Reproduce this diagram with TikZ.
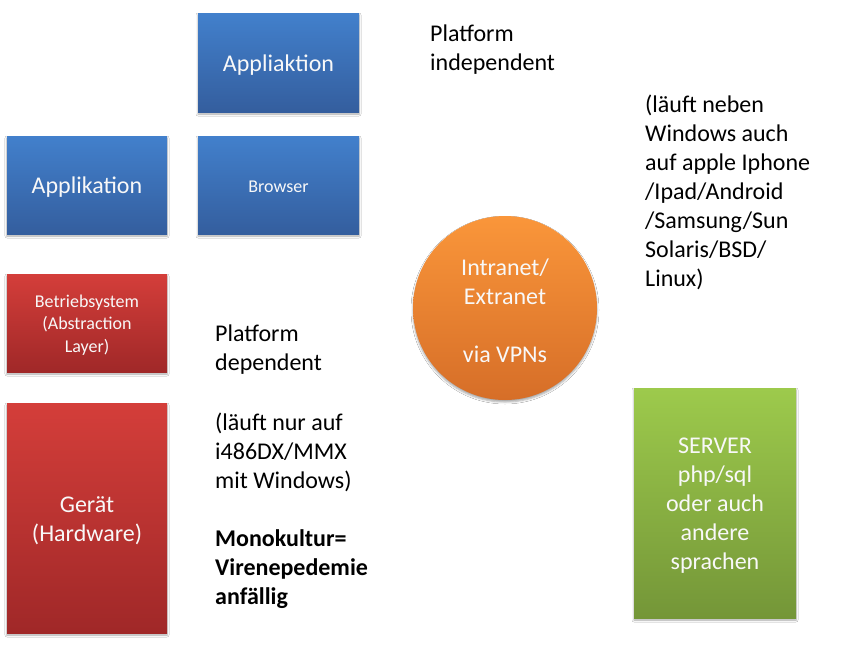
\documentclass[tikz,border=0pt]{standalone}
\usepackage{fontspec}
\setmainfont{Carlito}
\usetikzlibrary{shadows.blur}
\definecolor{bluetop}{RGB}{66,128,204}
\definecolor{bluebot}{RGB}{52,94,158}
\definecolor{redtop}{RGB}{212,62,58}
\definecolor{redbot}{RGB}{160,40,40}
\definecolor{orgtop}{RGB}{250,150,58}
\definecolor{orgbot}{RGB}{214,110,40}
\definecolor{grntop}{RGB}{157,202,76}
\definecolor{grnbot}{RGB}{116,150,56}
\definecolor{txtwhite}{RGB}{248,248,248}
\tikzset{
  shape base/.style={inner sep=0pt,
    blur shadow={shadow xshift=0pt, shadow yshift=-2pt, shadow blur radius=2pt, shadow opacity=35}},
  boxtext/.style={inner sep=0pt, align=center, text=txtwhite},
  bigtxt/.style={font=\fontsize{24}{29}\selectfont},
  smalltxt/.style={font=\fontsize{18}{22.5}\selectfont},
  bluebox/.style={shape base, rectangle, top color=bluetop, bottom color=bluebot,
    minimum width=161pt, minimum height=99pt},
  redbox/.style={shape base, rectangle, top color=redtop, bottom color=redbot,
    minimum width=160pt},
  orgcirc/.style={shape base, circle, top color=orgtop, bottom color=orgbot,
    minimum size=184pt},
  grnbox/.style={shape base, rectangle, top color=grntop, bottom color=grnbot,
    minimum width=162pt, minimum height=230pt},
  note/.style={inner sep=0pt, align=left, anchor=west, text=black,
    font=\fontsize{24}{29}\selectfont}
}
\begin{document}
\begin{tikzpicture}[x=1pt,y=-1pt]
\useasboundingbox[fill=white] (0,0) rectangle (844,656);
% blue boxes
\node[bluebox] (app2) at (278.5,62.5) {};
\node[boxtext, bigtxt] (app2t) at ([yshift=-2.5pt]app2.center) {Appliaktion};
\node[bluebox, minimum width=160pt, minimum height=98pt] (app1) at (87,185) {};
\node[boxtext, bigtxt] (app1t) at ([yshift=-2.5pt]app1.center) {Applikation};
\node[bluebox, minimum height=98pt] (browser) at (278.5,185) {};
\node[boxtext, smalltxt] (browsert) at ([yshift=-2pt]browser.center) {Browser};
% red boxes
\node[redbox, minimum height=98pt] (os) at (87,323) {};
\node[boxtext, smalltxt] (ost) at ([yshift=-2pt]os.center) {Betriebsystem\\(Abstraction\\Layer)};
\node[redbox, minimum height=230pt] (hw) at (87,518) {};
\node[boxtext, bigtxt] (hwt) at ([yshift=-2.5pt]hw.center) {Gerät\\(Hardware)};
% orange circle
\node[orgcirc] (net) at (505,308) {};
\node[boxtext, bigtxt] (nett) at ([yshift=-2.5pt]net.center) {Intranet/\\Extranet\\[29pt]via VPNs};
% green box
\node[grnbox] (srv) at (715,503) {};
\node[boxtext, bigtxt] (srvt) at ([yshift=-2.5pt]srv.center) {SERVER\\php/sql\\oder auch\\andere\\sprachen};
% notes
\node[note] (indep) at (430,50) {Platform\\independent};
\node[note] (indepinfo) at (645,192) {(läuft neben\\Windows auch\\auf apple Iphone\\/Ipad/Android\\/Samsung/Sun\\Solaris/BSD/\\Linux)};
\node[note] (dep) at (215,349.5) {Platform\\dependent};
\node[note] (depinfo) at (215,510.5) {(läuft nur auf\\i486DX/MMX\\mit Windows)\\[29pt]\textbf{Monokultur=}\\\textbf{Virenepedemie}\\\textbf{anfällig}};
\end{tikzpicture}
\end{document}
